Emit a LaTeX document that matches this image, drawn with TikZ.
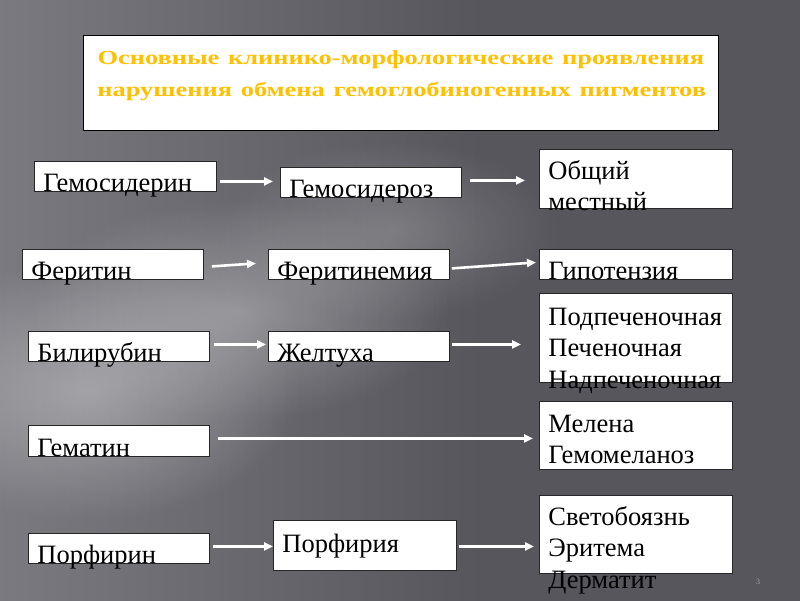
\documentclass[tikz,border=0pt]{standalone}
\usepackage{fontspec}
\setmainfont{Liberation Serif}
\usetikzlibrary{calc,arrows.meta,fadings}
\definecolor{bgdark}{RGB}{86,86,92}
\definecolor{bgleft}{RGB}{122,122,128}
\definecolor{titlegold}{RGB}{255,192,0}
\hyphenpenalty=10000
\tikzfading[name=glow, inner color=transparent!0, outer color=transparent!100]
\tikzset{
	cell/.style={draw=black!85, fill=white, line width=0.8pt, anchor=north west, inner xsep=9pt, inner ysep=0pt, text depth=0pt, text height=30pt, align=left, font=\fontsize{26.5}{31.5}\selectfont},
	arr/.style={white, line width=2.6pt, -{Triangle[length=9pt,width=8pt]}}
}
\begin{document}
\begin{tikzpicture}[x=1pt,y=-1pt]
	\useasboundingbox (0,0) rectangle (800,600);
	% background
	\shade[left color=bgleft, right color=bgdark] (-5,-5) rectangle (480,605);
	\fill[bgdark] (479,-5) rectangle (805,605);
	\fill[white, opacity=0.35, path fading=glow] (90,390) ellipse (210 and 130);
	\fill[white, opacity=0.3, path fading=glow] (240,310) ellipse (210 and 110);
	\fill[white, opacity=0.2, path fading=glow] (390,230) ellipse (170 and 90);
	
	\node[cell, draw=black, text width=607pt, inner xsep=14pt, text height=29.5pt, text depth=65.5pt, align=center, text=titlegold, font=\bfseries\fontsize{20}{32}\selectfont] (title) at (83,35) {\scalebox{1.32}[1]{Основные клинико-морфологические проявления}\\\scalebox{1.32}[1]{нарушения обмена гемоглобиногенных пигментов}};
	
	% first column
	\node[cell, text width=164pt] (gsd) at (34,161) {Гемосидерин};
	\node[cell, text width=163pt] (fer) at (22,249) {Феритин};
	\node[cell, text width=163pt] (bil) at (28,331) {Билирубин};
	\node[cell, text width=163pt, text height=31pt] (gem) at (28,425) {Гематин};
	\node[cell, text width=163pt] (por) at (28,533) {Порфирин};
	% second column
	\node[cell, text width=163pt] (gsdz) at (280,167) {Гемосидероз};
	\node[cell, text width=163pt] (ferm) at (268,249) {Феритинемия};
	\node[cell, text width=163pt] (zhel) at (268,331) {Желтуха};
	\node[cell, text width=165pt, text height=32pt, text depth=18pt] (porf) at (273,520) {Порфирия};
	% third column
	\node[cell, text width=175pt, text depth=29pt] (obsh) at (539,149) {Общий\\местный};
	\node[cell, text width=175pt] (gipo) at (539,249) {Гипотензия};
	\node[cell, text width=175pt, text height=32pt, text depth=57pt] (pech) at (539,293) {Подпеченочная\\Печеночная\\Надпеченочная};
	\node[cell, text width=175pt, text height=31pt, text depth=37pt] (mel) at (539,401) {Мелена\\Гемомеланоз};
	\node[cell, text width=175pt, text depth=48pt] (svet) at (539,495) {Светобоязнь\\Эритема\\Дерматит};
	
	\node[text=gray!70, font=\fontsize{8}{8}\selectfont] (pnum) at (758,582) {3};
	
	% arrows
	\draw[arr] ($(gsd.east)+(3,5)$) -- ($(gsdz.west)+(-7,-1)$);
	\draw[arr] ($(gsdz.east)+(8,-2)$) -- ($(obsh.west)+(-14,1.5)$);
	\draw[arr] ($(fer.east)+(8,2)$) -- ($(ferm.west)+(-12,-1)$);
	\draw[arr] ($(ferm.east)+(2,4)$) -- ($(gipo.west)+(-3,-2)$);
	\draw[arr] ($(bil.east)+(4,-2)$) -- ($(zhel.west)+(-2,-2)$);
	\draw[arr] ($(zhel.east)+(2,-2)$) -- ($(pech.west)+(-18,6.5)$);
	\draw[arr] ($(gem.east)+(8,-2.5)$) -- ($(mel.west)+(-6,3)$);
	\draw[arr] ($(por.east)+(3,-2)$) -- ($(porf.west)+(0,1)$);
	\draw[arr] ($(porf.east)+(2,1)$) -- ($(svet.west)+(-5,12)$);
\end{tikzpicture}
\end{document}
